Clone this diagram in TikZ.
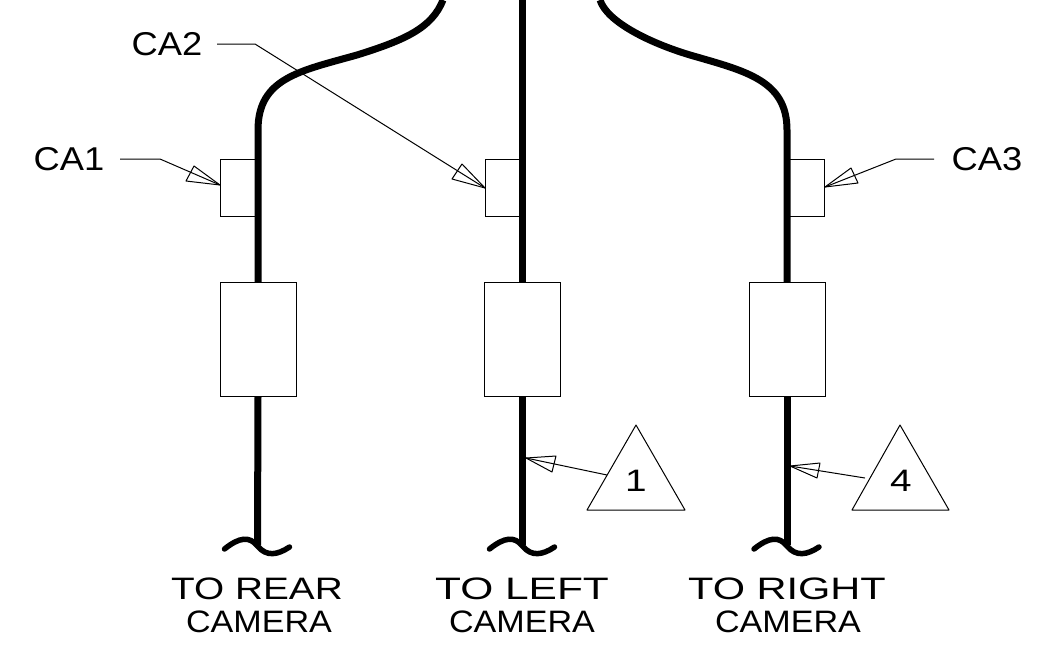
\documentclass[tikz,border=0pt]{standalone}
\usepackage{graphicx}
\usepackage{fontspec}
\setmainfont{Liberation Sans}
\tikzset{
  wire/.style={line width=7pt,line cap=butt},
  squiggle/.style={line width=5.5pt,line cap=round},
  thinline/.style={line width=1pt,draw=black,line join=round},
  partbox/.style={draw=black,line width=1pt,fill=none,inner sep=0pt,rectangle},
  lbl/.style={font=\fontsize{33}{33}\selectfont,anchor=base,inner sep=0pt,text=black},
  caplbl/.style={font=\fontsize{31}{31}\selectfont,anchor=base,inner sep=0pt,text=black}
}
\begin{document}
\begin{tikzpicture}[x=1pt,y=-1pt]
\useasboundingbox (0,0) rectangle (1047,654);
% boxes
\node[partbox,minimum width=37pt,minimum height=57pt] (s1) at (238.5,187.5) {};
\node[partbox,minimum width=37pt,minimum height=57pt] (s2) at (503.5,187.5) {};
\node[partbox,minimum width=37pt,minimum height=57pt] (s3) at (806,187.5) {};
\node[partbox,minimum width=76pt,minimum height=114pt] (b1) at (258,339) {};
\node[partbox,minimum width=76pt,minimum height=114pt] (b2) at (522.5,339) {};
\node[partbox,minimum width=76pt,minimum height=114pt] (b3) at (787,339) {};
% coordinates of wires
\coordinate (t1) at (443,0);
\coordinate (t2) at (522.5,0);
\coordinate (t3) at (600,0);
\coordinate (e1) at (257.5,545);
\coordinate (e2) at (522.5,545);
\coordinate (e3) at (787,545);
% upper wires
\draw[wire] (t1) .. controls (432,28) and (405,40) .. (357,55) .. controls (300,71) and (258,78) .. (258,130) -- (258,282);
\draw[wire] (t2) -- (522.5,282);
\draw[wire] (t3) .. controls (607,22) and (650,43) .. (690,55) .. controls (745,71) and (787,80) .. (787,130) -- (787,282);
% lower wires
\draw[wire] (b1.south) -- (e1);
\draw[wire] (b2.south) -- (e2);
\draw[wire] (b3.south) -- (e3);
% squiggles
\foreach \e in {e1,e2,e3}{
  \draw[squiggle] ([shift={(-33,4)}]\e) .. controls ([shift={(-18,-8)}]\e) and ([shift={(-8,-9)}]\e) .. ([shift={(0,1)}]\e) .. controls ([shift={(9,12)}]\e) and ([shift={(20,10)}]\e) .. ([shift={(32,2)}]\e);
}
% labels
\node[lbl] (ca1) at (69,170) {\scalebox{1.1}[1]{CA1}};
\node[lbl] (ca2) at (167,55) {\scalebox{1.1}[1]{CA2}};
\node[lbl] (ca3) at (987,170) {\scalebox{1.1}[1]{CA3}};
\node[caplbl] (l1a) at (257,599) {\scalebox{1.25}[1]{TO REAR}};
\node[caplbl] (l1b) at (259,632) {\scalebox{1.1}[1]{CAMERA}};
\node[caplbl] (l2a) at (522,599) {\scalebox{1.37}[1]{TO LEFT}};
\node[caplbl] (l2b) at (522,632) {\scalebox{1.1}[1]{CAMERA}};
\node[caplbl] (l3a) at (787,599) {\scalebox{1.34}[1]{TO RIGHT}};
\node[caplbl] (l3b) at (788,632) {\scalebox{1.1}[1]{CAMERA}};
% leader lines
\coordinate (a1) at (220,185);
\coordinate (a2) at (485,188);
\coordinate (a3) at (825,187);
\coordinate (a4) at (526,458);
\coordinate (a5) at (790,466);
\draw[thinline] (120,159) -- (160,159) -- (a1);
\draw[thinline] (194,166) -- (a1) -- (186,181) -- cycle;
\draw[thinline] (217,44) -- (255,44) -- (a2);
\draw[thinline] (462,164) -- (a2) -- (452,179) -- cycle;
\draw[thinline] (934,159) -- (896,159) -- (a3);
\draw[thinline] (851,168) -- (a3) -- (858,183) -- cycle;
% triangles
\coordinate (p1) at (636,425);
\coordinate (p2) at (587,510);
\coordinate (p3) at (685,510);
\draw[thinline] (p1) -- (p2) -- (p3) -- cycle;
\node[caplbl] (n1) at (636,491) {\scalebox{1.25}[1]{1}};
\coordinate (q1) at (900,425);
\coordinate (q2) at (852,510);
\coordinate (q3) at (949,510);
\draw[thinline] (q1) -- (q2) -- (q3) -- cycle;
\node[caplbl] (n4) at (901,491) {\scalebox{1.25}[1]{4}};
\draw[thinline] (607,475) -- (a4);
\draw[thinline] (556,456) -- (a4) -- (552,472) -- cycle;
\draw[thinline] (865,478) -- (a5);
\draw[thinline] (820,463) -- (a5) -- (817,478) -- cycle;
\end{tikzpicture}
\end{document}
